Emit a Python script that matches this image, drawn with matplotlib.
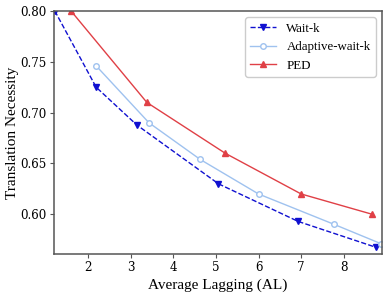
import matplotlib
matplotlib.use("Agg")
import matplotlib.pyplot as plt

waitk_x = [1.22, 2.19, 3.14, 5.06, 6.93, 8.76]
waitk_y = [0.800, 0.725, 0.688, 0.630, 0.593, 0.5675]
adapt_x = [2.19, 3.43, 4.63, 6.00, 7.78, 8.88]
adapt_y = [0.746, 0.690, 0.654, 0.620, 0.590, 0.571]
ped_x = [1.60, 3.38, 5.22, 7.00, 8.67]
ped_y = [0.800, 0.710, 0.660, 0.620, 0.600]
xticks = [2, 3, 4, 5, 6, 7, 8]
yticks = [0.60, 0.65, 0.70, 0.75, 0.80]

fig = plt.figure(figsize=(3.88, 2.95), dpi=100)
ax = fig.add_axes([0.139, 0.139, 0.846, 0.824])

ax.plot(waitk_x, waitk_y, linestyle='--', color='#1010d0', marker='v', markersize=5,
        linewidth=1.0, label='Wait-k')
ax.plot(adapt_x, adapt_y, linestyle='-', color='#9fc2ef', marker='o', markersize=4,
        markerfacecolor='white', markeredgecolor='#9fc2ef', linewidth=1.0, label='Adaptive-wait-k')
ax.plot(ped_x, ped_y, linestyle='-', color='#e04046', marker='^', markersize=5,
        linewidth=1.0, label='PED')

ax.set_xlim(1.2, 8.9)
ax.set_ylim(0.561, 0.80)
ax.set_xticks(xticks)
ax.set_yticks(yticks)
ax.set_yticklabels([f"{v:.2f}" for v in yticks], family='DejaVu Serif', fontsize=8.6)
ax.set_xticklabels([str(v) for v in xticks], family='DejaVu Serif', fontsize=8.6)
for s in ax.spines.values():
    s.set_color('#555555')
    s.set_linewidth(1.1)
ax.tick_params(colors='#555555', labelcolor='black', length=3, pad=2)

ax.set_xlabel('Average Lagging (AL)', family='Liberation Serif', fontsize=11, labelpad=3)
ax.set_ylabel('Translation Necessity', family='Liberation Serif', fontsize=11, labelpad=1)
ax.legend(loc='upper right', prop={'family': 'Liberation Serif', 'size': 9.3}, framealpha=1,
          edgecolor='#cccccc')

fig.savefig('out.png', dpi=100)
